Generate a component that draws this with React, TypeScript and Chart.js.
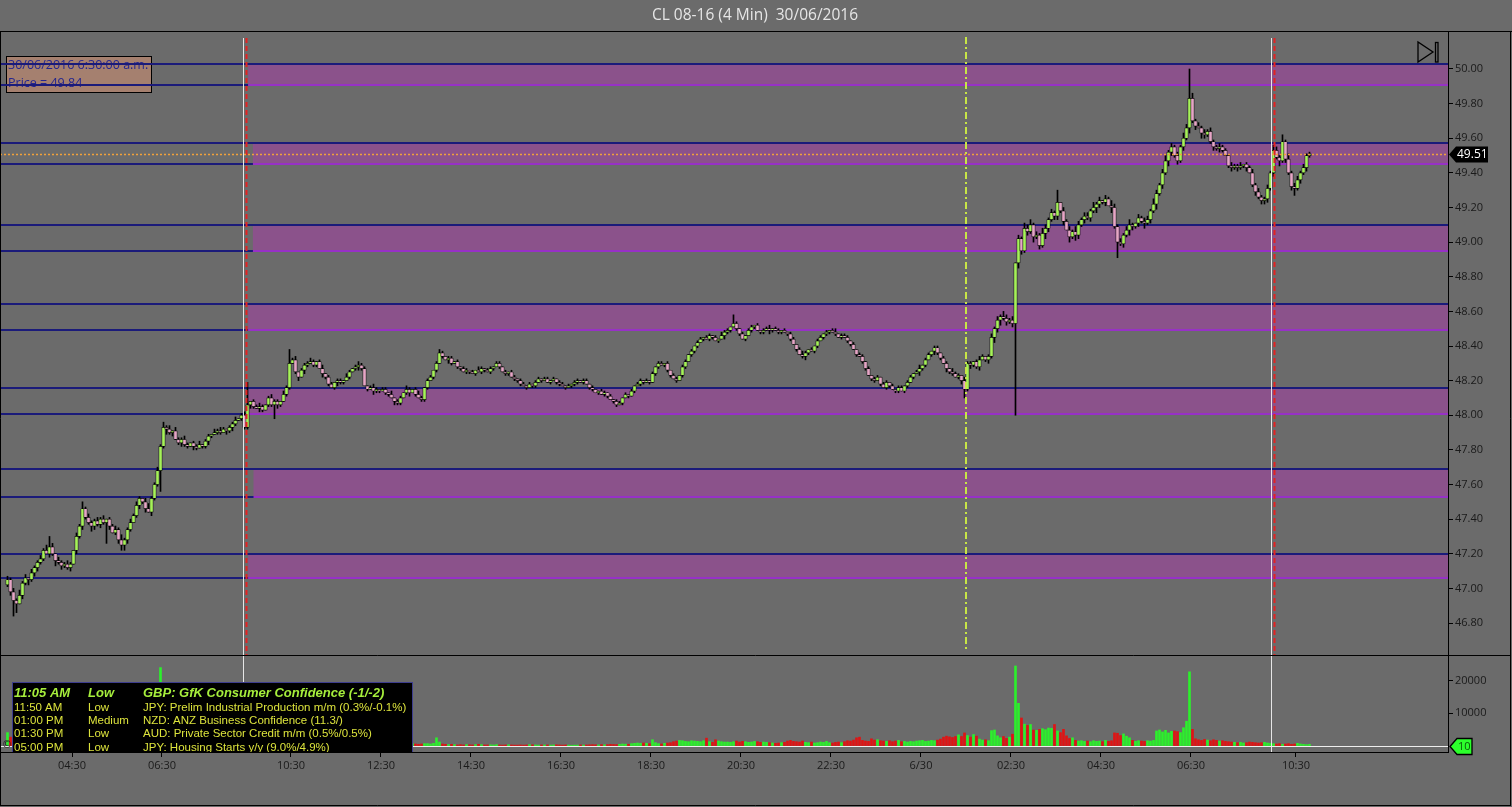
import { useEffect, useRef } from "react"
import { Chart, registerables } from "chart.js"
import type { Plugin } from "chart.js"

Chart.register(...registerables)

// CL 08-16, 4 minute bars, 30/06/2016
const firstOpen = 47.02
const closes = [
    47.05, 46.98, 46.93, 46.91, 46.96, 47.03, 47.06, 47.05, 47.09, 47.12,
    47.15, 47.17, 47.22, 47.2, 47.24, 47.2, 47.16, 47.15, 47.13, 47.14,
    47.12, 47.14, 47.22, 47.3, 47.36, 47.46, 47.41, 47.38, 47.36, 47.39,
    47.37, 47.4, 47.38, 47.4, 47.36, 47.32, 47.34, 47.28, 47.25, 47.28,
    47.34, 47.38, 47.42, 47.48, 47.52, 47.5, 47.46, 47.44, 47.52, 47.6,
    47.68, 47.82, 47.93, 47.92, 47.9, 47.91, 47.86, 47.84, 47.86, 47.83,
    47.82, 47.84, 47.82, 47.81, 47.83, 47.82, 47.85, 47.88, 47.89, 47.9,
    47.91, 47.9, 47.92, 47.91, 47.93, 47.95, 47.97, 47.98, 48.0, 47.93,
    48.06, 48.08, 48.05, 48.04, 48.05, 48.03, 48.06, 48.1, 48.06, 48.08,
    48.06, 48.08, 48.12, 48.16, 48.3, 48.32, 48.25, 48.22, 48.26, 48.29,
    48.3, 48.31, 48.29, 48.31, 48.27, 48.24, 48.22, 48.18, 48.16, 48.19,
    48.2, 48.19, 48.2, 48.22, 48.25, 48.27, 48.28, 48.29, 48.27, 48.17,
    48.15, 48.16, 48.14, 48.15, 48.14, 48.15, 48.13, 48.12, 48.1, 48.08,
    48.07, 48.1, 48.13, 48.15, 48.13, 48.15, 48.12, 48.1, 48.09, 48.16,
    48.2, 48.22, 48.26, 48.3, 48.36, 48.34, 48.32, 48.33, 48.3, 48.31,
    48.28, 48.27, 48.25, 48.26, 48.25, 48.24, 48.26, 48.25, 48.27, 48.26,
    48.25, 48.27, 48.28, 48.3, 48.28, 48.25, 48.24, 48.25, 48.22, 48.21,
    48.2, 48.18, 48.17, 48.16, 48.18, 48.17, 48.19, 48.21, 48.2, 48.21,
    48.19, 48.2, 48.21, 48.19, 48.18, 48.17, 48.16, 48.17, 48.18, 48.19,
    48.2, 48.19, 48.2, 48.18, 48.16, 48.15, 48.13, 48.14, 48.12, 48.13,
    48.11, 48.09, 48.08, 48.06, 48.07, 48.1, 48.12, 48.11, 48.14, 48.17,
    48.18, 48.2, 48.19, 48.2, 48.19, 48.24, 48.28, 48.3, 48.29, 48.3,
    48.26, 48.23, 48.21, 48.2, 48.23, 48.28, 48.31, 48.35, 48.37, 48.4,
    48.42, 48.44, 48.45, 48.44, 48.46, 48.45, 48.43, 48.44, 48.46, 48.48,
    48.49, 48.51, 48.53, 48.5, 48.47, 48.44, 48.46, 48.49, 48.51, 48.52,
    48.49, 48.48, 48.49, 48.5, 48.49, 48.5, 48.49, 48.48, 48.49, 48.48,
    48.47, 48.44, 48.41, 48.38, 48.35, 48.34, 48.36, 48.38, 48.37, 48.4,
    48.43, 48.45, 48.47, 48.48, 48.49, 48.48, 48.47, 48.45, 48.46, 48.45,
    48.43, 48.41, 48.38, 48.35, 48.34, 48.31, 48.27, 48.23, 48.21, 48.2,
    48.22, 48.18, 48.16, 48.19, 48.17, 48.15, 48.14, 48.16, 48.14, 48.17,
    48.19, 48.22, 48.24, 48.25, 48.27, 48.29, 48.32, 48.35, 48.37, 48.39,
    48.36, 48.33, 48.3, 48.27, 48.25, 48.24, 48.22, 48.23, 48.2, 48.15,
    48.3, 48.29, 48.31, 48.28, 48.32, 48.34, 48.32, 48.34, 48.45, 48.5,
    48.55, 48.57, 48.56, 48.54, 48.55, 48.53, 48.88, 49.02, 48.95, 49.08,
    49.06, 49.1, 49.03, 49.04, 48.98, 49.05, 49.08, 49.13, 49.17, 49.15,
    49.23, 49.18, 49.12, 49.07, 49.03, 49.06, 49.04, 49.1, 49.13, 49.15,
    49.14, 49.18, 49.2, 49.22, 49.24, 49.23, 49.25, 49.21, 49.2, 49.09,
    49.0, 48.99, 49.04, 49.07, 49.1, 49.09, 49.11, 49.14, 49.12, 49.11,
    49.13, 49.18, 49.22, 49.28, 49.33, 49.4, 49.47, 49.52, 49.55, 49.5,
    49.47, 49.55, 49.6, 49.66, 49.83, 49.7, 49.67, 49.66, 49.63, 49.62,
    49.64, 49.58, 49.55, 49.54, 49.55, 49.53, 49.5, 49.44, 49.43, 49.44,
    49.43, 49.44, 49.45, 49.43, 49.4, 49.33, 49.29, 49.26, 49.24, 49.25,
    49.31, 49.4, 49.53, 49.49, 49.47, 49.58, 49.48, 49.4, 49.32, 49.31,
    49.36, 49.4, 49.43, 49.5, 49.51
]
// wick length above / below the body, in cents, one digit per bar
const upperWickCents =
    "2121312021 1213120211 2102131211 2120112131 1212102311 2131202112 1011201102 1210112012 " +
    "2011210121 1021012011 1210120110 1102101211 0121011020 1102101210 " +
    "1101210110 1011010210 1101101011 0110101101 1010110101 1011010011 0101101010 1101010110 1011011010 1101101021 " +
    "1011010110 1011201101 0110121010 1101012011 1010110101 1011010110 1101201101 1011021102 1101210121 " +
    "2132120213 2312132121 3021213212 2131202132 1212310212 2132123121 2132031212 " +
    "1211211021 1201121211 2132121312 21211"
const lowerWickCents =
    "1212021312 2110213121 1202121132 1211201213 2101212021 1213120121 1021011210 1102121011 " +
    "1210210112 2101101202 1011021101 2110101210 1021101102 1101201011 " +
    "1011010210 1101101011 0110101101 1101011010 0101101011 1010110101 1011010101 0110101101 1101011011 1010110102 " +
    "1101101011 0110210110 1101012101 1011101010 1101011011 0101101101 1010211012 1102110121 1211201213 " +
    "2312121321 2131213212 2120313212 1213212031 2121321213 1213121321 2121312032 " +
    "1121210121 2112012121 2121312121 12121"
// [bar, low, high] for the long wicks
const wickSpikes: [number, number | null, number | null][] = [
    [2, 46.84, null], [3, 46.86, null], [14, null, 47.3], [25, null, 47.5],
    [33, 47.26, null], [38, 47.22, null], [51, 47.56, null], [80, null, 48.19],
    [89, 47.98, null], [94, null, 48.38], [144, null, 48.38], [242, null, 48.58],
    [319, 48.1, null], [336, 48.0, null], [350, null, 49.3], [370, 48.91, null],
    [394, null, 50.0], [419, 49.22, null], [425, null, 49.62], [429, 49.27, null]
]
const volumes = [
    4000, 2600, 3100, 3500, 2800, 2200, 1900, 1600, 1800, 2100,
    1700, 1500, 2300, 1900, 2500, 1800, 1600, 1400, 1500, 1300,
    1400, 1300, 2600, 3100, 2700, 3900, 2400, 1800, 1500, 1600,
    1400, 1500, 1300, 1400, 1600, 1800, 1500, 2200, 2500, 1900,
    2100, 1800, 2000, 2600, 2300, 1900, 1700, 1600, 2700, 3300,
    6200, 24000, 9800, 4100, 2500, 2000, 1900, 1800, 1600, 1700,
    1500, 1400, 1300, 1500, 1400, 1300, 1600, 1700, 1500, 1400,
    1300, 1400, 1200, 1500, 1600, 1800, 1900, 2100, 2400, 3200,
    3500, 2600, 2000, 1700, 1500, 1400, 1600, 1800, 1500, 1700,
    1600, 1700, 2000, 2300, 4800, 3200, 2400, 2000, 1800, 1700,
    1600, 1500, 1400, 1500, 1600, 1500, 1400, 1600, 1500, 1300,
    1200, 1100, 1300, 1200, 1400, 1300, 1200, 1100, 1300, 1700,
    1400, 1200, 1100, 1000, 1100, 1000, 1200, 1100, 1000, 1100,
    1000, 1200, 1100, 900, 1000, 600, 500, 400, 500, 600,
    600, 500, 700, 2400, 1100, 500, 400, 300, 400, 300,
    200, 300, 200, 300, 250, 200, 300, 400, 300, 200,
    200, 250, 200, 300, 200, 150, 200, 250, 200, 150,
    150, 200, 150, 200, 300, 250, 200, 150, 200, 200,
    200, 150, 200, 250, 200, 150, 200, 150, 100, 150,
    150, 200, 150, 200, 250, 300, 250, 200, 300, 250,
    300, 400, 350, 300, 400, 500, 450, 400, 600, 700,
    800, 700, 800, 700, 600, 1800, 900, 600, 500, 700,
    800, 900, 1200, 1400, 1600, 1500, 1300, 1200, 1500, 1400,
    1300, 1200, 1500, 2300, 1200, 1000, 1800, 1400, 1200, 1100,
    1100, 1000, 1200, 1400, 1100, 1300, 1200, 1000, 1100, 1300,
    1200, 1000, 1100, 1000, 900, 800, 700, 800, 900, 1000,
    1400, 1600, 1300, 1200, 1100, 1400, 1000, 900, 1100, 800,
    900, 1100, 1000, 1300, 900, 800, 1000, 1100, 900, 1200,
    1500, 1400, 1700, 2400, 2600, 1600, 1400, 1300, 2100, 1700,
    1800, 1500, 1400, 1300, 1500, 1200, 1400, 1600, 1200, 1300,
    1100, 1300, 1200, 1400, 1500, 1600, 1300, 1400, 1600, 1500,
    1700, 2000, 2600, 2900, 2700, 2500, 2800, 3300, 2800, 3900,
    3100, 2600, 3400, 2900, 2000, 1700, 1800, 1500, 4600, 4800,
    3000, 2400, 2800, 2200, 2600, 3500, 24500, 13000, 8500, 6600,
    6200, 6500, 4800, 4700, 5000, 5200, 4900, 5400, 5300, 6500,
    4500, 4000, 5000, 3000, 2200, 2400, 1600, 1400, 1500, 1300,
    1400, 1200, 1500, 1300, 1400, 1200, 1600, 1300, 1500, 3900,
    3800, 3100, 3600, 2900, 2400, 1600, 1300, 1500, 1400, 1300,
    1500, 1400, 1600, 4500, 4800, 4200, 4700, 3900, 4400, 4500,
    4300, 4000, 5500, 7500, 22700, 5000, 2100, 1800, 1600, 1900,
    1700, 1500, 1800, 1600, 1400, 1500, 1300, 1200, 1100, 1000,
    900, 1000, 800, 900, 1100, 1000, 900, 800, 900, 1000,
    800, 700, 600, 500, 600, 400, 500, 600, 400, 500,
    700, 500, 400, 300, 400
]

const priceTicks = [46.8, 47.0, 47.2, 47.4, 47.6, 47.8, 48.0, 48.2, 48.4, 48.6, 48.8, 49.0, 49.2, 49.4, 49.6, 49.8, 50.0]
const volumeTicks = [10000, 20000]
const timeTickAt = [21.5, 51.5, 94.5, 124.5, 154.5, 184.5, 214.5, 244.5, 274.5, 304.5, 334.5, 364.5, 394.5, 429.5]
const timeTickText = ["04:30", "06:30", "10:30", "12:30", "14:30", "16:30", "18:30", "20:30", "22:30", "6/30", "02:30", "04:30", "06:30", "10:30"]

const levels = [50.03, 49.91, 49.57, 49.45, 49.1, 48.95, 48.64, 48.49, 48.16, 48.01, 47.69, 47.53, 47.2, 47.06]
// [top, bottom, first bar]
const zones: [number, number, number][] = [
    [50.03, 49.91, 80.2],
    [49.57, 49.45, 81.8],
    [49.1, 48.95, 81.8],
    [48.64, 48.49, 80.2],
    [48.16, 48.01, 80.2],
    [47.69, 47.53, 82],
    [47.2, 47.06, 80.2]
]
const sessionMarks = [79.2, 421.8]
const newsMarks = [319.5]
const lastVolume = 10
const cursorText = ["30/06/2016 6:30:00 a.m.", "Price = 49.84"]
const events = [
    ["11:05 AM", "Low", "GBP: GfK Consumer Confidence (-1/-2)"],
    ["11:50 AM", "Low", "JPY: Prelim Industrial Production m/m (0.3%/-0.1%)"],
    ["01:00 PM", "Medium", "NZD: ANZ Business Confidence (11.3/)"],
    ["01:30 PM", "Low", "AUD: Private Sector Credit m/m (0.5%/0.5%)"],
    ["05:00 PM", "Low", "JPY: Housing Starts y/y (9.0%/4.9%)"]
]

const digits = (s: string) => s.replace(/\s/g, "").split("").map(Number)
const upWick = digits(upperWickCents)
const downWick = digits(lowerWickCents)
const opens = closes.map((_, i) => (i === 0 ? firstOpen : closes[i - 1]))
const highs = closes.map((c, i) => Math.max(c, opens[i]) + upWick[i] / 100)
const lows = closes.map((c, i) => Math.min(c, opens[i]) - downWick[i] / 100)
wickSpikes.forEach(([i, lo, hi]) => {
    if (lo !== null) lows[i] = lo
    if (hi !== null) highs[i] = hi
})
const isUp = closes.map((c, i) => c >= opens[i])
const lastPrice = closes[closes.length - 1]

const BG = "#6b6b6b"
const tickFont = { family: "'Open Sans', sans-serif", size: 11 }

const overlay: Plugin = {
    id: "overlay",
    beforeDraw(chart) {
        const { ctx, width, height } = chart
        ctx.save()
        ctx.fillStyle = BG
        ctx.fillRect(0, 0, width, height)
        ctx.restore()
    },
    beforeDatasetsDraw(chart) {
        const { ctx, chartArea: a, scales } = chart
        const x = scales.x
        const y = scales.y
        ctx.save()

        // cursor read-out box
        ctx.fillStyle = "#a5806f"
        ctx.fillRect(6, 56, 145, 36)
        ctx.strokeStyle = "#000"
        ctx.lineWidth = 1
        ctx.strokeRect(6.5, 56.5, 145, 36)
        ctx.fillStyle = "#25258e"
        ctx.font = "12.5px 'Open Sans', sans-serif"
        ctx.textBaseline = "middle"
        ctx.fillText(cursorText[0], 8, 65)
        ctx.fillText(cursorText[1], 8, 83)

        zones.forEach(([top, bottom, from]) => {
            const x0 = x.getPixelForValue(from)
            const y0 = y.getPixelForValue(top)
            const y1 = y.getPixelForValue(bottom)
            ctx.fillStyle = "rgba(172, 58, 172, 0.5)"
            ctx.fillRect(x0, y0, a.right - x0, y1 - y0)
        })
        ctx.strokeStyle = "#1b1b7a"
        ctx.lineWidth = 2
        levels.forEach((p) => {
            const yy = Math.round(y.getPixelForValue(p))
            ctx.beginPath()
            ctx.moveTo(0, yy)
            ctx.lineTo(a.right, yy)
            ctx.stroke()
        })
        ctx.strokeStyle = "#c23ae0"
        ctx.lineWidth = 1.5
        zones.forEach(([, bottom, from]) => {
            const x0 = x.getPixelForValue(from)
            const yy = Math.round(y.getPixelForValue(bottom))
            ctx.beginPath()
            ctx.moveTo(x0, yy)
            ctx.lineTo(a.right, yy)
            ctx.stroke()
        })
        ctx.restore()
    },
    afterDatasetsDraw(chart) {
        const { ctx, chartArea: a, scales } = chart
        const x = scales.x
        const y = scales.y
        const yv = scales.yv
        const priceBottom = y.bottom
        ctx.save()

        // session markers
        sessionMarks.forEach((m) => {
            const xx = Math.round(x.getPixelForValue(m))
            ctx.setLineDash([])
            ctx.strokeStyle = "#e6e6e6"
            ctx.lineWidth = 1
            ctx.beginPath()
            ctx.moveTo(xx - 1.5, 38)
            ctx.lineTo(xx - 1.5, a.bottom)
            ctx.stroke()
            ctx.setLineDash([5, 3])
            ctx.strokeStyle = "#e32222"
            ctx.lineWidth = 2
            ctx.beginPath()
            ctx.moveTo(xx + 1.5, 38)
            ctx.lineTo(xx + 1.5, priceBottom)
            ctx.stroke()
        })
        newsMarks.forEach((m) => {
            const xx = Math.round(x.getPixelForValue(m))
            ctx.setLineDash([7, 3, 2, 3])
            ctx.strokeStyle = "#c8e646"
            ctx.lineWidth = 2
            ctx.beginPath()
            ctx.moveTo(xx, 37)
            ctx.lineTo(xx, priceBottom - 4)
            ctx.stroke()
        })

        // last price line
        const yl = Math.round(y.getPixelForValue(lastPrice)) + 0.5
        ctx.setLineDash([2, 2])
        ctx.strokeStyle = "#f2a23a"
        ctx.lineWidth = 1.5
        ctx.beginPath()
        ctx.moveTo(0, yl)
        ctx.lineTo(a.right, yl)
        ctx.stroke()

        // last volume line
        const yvl = Math.round(yv.getPixelForValue(lastVolume)) + 0.5
        ctx.setLineDash([])
        ctx.strokeStyle = "#eeeeee"
        ctx.lineWidth = 1
        ctx.beginPath()
        ctx.moveTo(0, yvl)
        ctx.lineTo(a.right, yvl)
        ctx.stroke()

        // economic calendar box
        ctx.save()
        ctx.beginPath()
        ctx.rect(0, 0, a.right, a.bottom)
        ctx.clip()
        ctx.fillStyle = "#000"
        ctx.fillRect(12, 682, 401, 72)
        ctx.strokeStyle = "#3d3d8e"
        ctx.strokeRect(12.5, 682.5, 400, 72)
        ctx.textBaseline = "middle"
        const rowY = [693, 708, 721, 734, 748]
        events.forEach((row, i) => {
            if (i === 0) {
                ctx.font = "italic bold 13px 'Liberation Sans', Arial, sans-serif"
                ctx.fillStyle = "#a6ee3c"
            } else {
                ctx.font = "11.5px 'Liberation Sans', Arial, sans-serif"
                ctx.fillStyle = "#dce33c"
            }
            ctx.fillText(row[0], 14, rowY[i])
            ctx.fillText(row[1], 88, rowY[i])
            ctx.fillText(row[2], 143, rowY[i])
        })
        ctx.restore()
        ctx.fillStyle = "#222"
        ctx.font = "10px 'DejaVu Sans', sans-serif"
        ctx.textBaseline = "middle"
        ctx.fillText("©", 2, 745)
        ctx.restore()
    },
    afterDraw(chart) {
        const { ctx, chartArea: a, scales, width, height } = chart
        const y = scales.y
        const yv = scales.yv
        ctx.save()

        // title
        ctx.fillStyle = "#e6e6e6"
        ctx.font = "15.5px 'Open Sans', sans-serif"
        ctx.textAlign = "center"
        ctx.textBaseline = "middle"
        ctx.fillText("CL 08-16 (4 Min)  30/06/2016", 755, 16)

        // frame
        ctx.strokeStyle = "#000"
        ctx.lineWidth = 1
        ctx.beginPath()
        ctx.moveTo(0, 31.5)
        ctx.lineTo(width, 31.5)
        ctx.moveTo(0.5, 31)
        ctx.lineTo(0.5, height - 1)
        ctx.moveTo(width - 1.5, 31)
        ctx.lineTo(width - 1.5, height - 1)
        ctx.moveTo(0, height - 1.5)
        ctx.lineTo(width - 1, height - 1.5)
        ctx.moveTo(0, Math.round(y.bottom) + 0.5)
        ctx.lineTo(width - 1, Math.round(y.bottom) + 0.5)
        ctx.stroke()

        // skip-to-end icon
        ctx.lineWidth = 1.3
        ctx.beginPath()
        ctx.moveTo(1418, 42)
        ctx.lineTo(1418, 62)
        ctx.lineTo(1433, 52)
        ctx.closePath()
        ctx.stroke()
        ctx.strokeRect(1435.5, 42.5, 2.5, 19.5)

        // last price tag
        const yl = Math.round(y.getPixelForValue(lastPrice)) + 0.5
        ctx.fillStyle = "#000"
        ctx.beginPath()
        ctx.moveTo(a.right + 1, yl)
        ctx.lineTo(a.right + 8, yl - 8)
        ctx.lineTo(a.right + 40, yl - 8)
        ctx.lineTo(a.right + 40, yl + 8)
        ctx.lineTo(a.right + 8, yl + 8)
        ctx.closePath()
        ctx.fill()
        ctx.fillStyle = "#fff"
        ctx.font = "12px 'Open Sans', sans-serif"
        ctx.textAlign = "left"
        ctx.fillText(lastPrice.toFixed(2), a.right + 9, yl + 0.5)

        // last volume tag
        const yvl = Math.round(yv.getPixelForValue(lastVolume)) + 0.5
        ctx.fillStyle = "#2cff2c"
        ctx.strokeStyle = "#000"
        ctx.beginPath()
        ctx.moveTo(a.right + 2, yvl)
        ctx.lineTo(a.right + 9, yvl - 8)
        ctx.lineTo(a.right + 24, yvl - 8)
        ctx.lineTo(a.right + 24, yvl + 8)
        ctx.lineTo(a.right + 9, yvl + 8)
        ctx.closePath()
        ctx.fill()
        ctx.stroke()
        ctx.fillStyle = "#0a5a0a"
        ctx.font = "11px 'Open Sans', sans-serif"
        ctx.fillText(String(lastVolume), a.right + 10, yvl + 0.5)
        ctx.restore()
    }
}

const App = () => {
    const canvasRef = useRef<HTMLCanvasElement>(null)

    useEffect(() => {
        document.body.style.margin = "0"
        document.body.style.background = BG
        if (!canvasRef.current) return

        const idx = closes.map((_, i) => i)
        const chart = new Chart(canvasRef.current, {
            type: "bar",
            data: {
                datasets: [
                    {
                        label: "wick",
                        data: idx.map((i) => ({ x: i, y: [lows[i], highs[i]] })) as any,
                        backgroundColor: "#000",
                        barThickness: 1,
                        grouped: false,
                        yAxisID: "y",
                        order: 3
                    },
                    {
                        label: "body",
                        data: idx.map((i) => ({ x: i, y: [opens[i], closes[i]] })) as any,
                        backgroundColor: idx.map((i) => (isUp[i] ? "#a6f25a" : "#e6a6c6")),
                        borderColor: "#000",
                        borderWidth: 0.7,
                        borderSkipped: false,
                        barThickness: 3.4,
                        minBarLength: 1.5,
                        grouped: false,
                        yAxisID: "y",
                        order: 2
                    },
                    {
                        label: "volume",
                        data: idx.map((i) => ({ x: i, y: volumes[i] })) as any,
                        backgroundColor: idx.map((i) => (isUp[i] ? "#2cf02c" : "#e01414")),
                        barThickness: 2,
                        grouped: false,
                        yAxisID: "yv",
                        order: 1
                    }
                ]
            },
            options: {
                animation: false,
                responsive: false,
                devicePixelRatio: 1,
                layout: { padding: { top: 32, left: 1, right: 0, bottom: 0 } },
                plugins: {
                    legend: { display: false },
                    tooltip: { enabled: false },
                    title: { display: false }
                },
                scales: {
                    x: {
                        type: "linear",
                        min: -2.167,
                        max: 480.17,
                        offset: false,
                        afterBuildTicks: (s: any) => {
                            s.ticks = timeTickAt.map((v) => ({ value: v }))
                        },
                        afterFit: (s: any) => {
                            s.height = 55
                        },
                        ticks: {
                            autoSkip: false,
                            maxRotation: 0,
                            padding: 2,
                            color: "#1a1a1a",
                            font: tickFont,
                            callback: (_v: any, i: number) => timeTickText[i]
                        },
                        grid: { offset: false, drawOnChartArea: false, tickLength: 5, color: "#000" },
                        border: { display: true, color: "#000" }
                    },
                    y: {
                        type: "linear",
                        position: "right",
                        stack: "panes",
                        stackWeight: 623,
                        min: 46.6152,
                        max: 50.2137,
                        afterBuildTicks: (s: any) => {
                            s.ticks = priceTicks.map((v) => ({ value: v }))
                        },
                        afterFit: (s: any) => {
                            s.width = 64
                        },
                        ticks: {
                            padding: 2,
                            color: "#1a1a1a",
                            font: tickFont,
                            callback: (v: any) => Number(v).toFixed(2)
                        },
                        grid: { drawOnChartArea: false, tickLength: 5, color: "#000" },
                        border: { display: true, color: "#000" }
                    },
                    yv: {
                        type: "linear",
                        position: "right",
                        stack: "panes",
                        stackWeight: 97,
                        min: -1970,
                        max: 27880,
                        afterBuildTicks: (s: any) => {
                            s.ticks = volumeTicks.map((v) => ({ value: v }))
                        },
                        afterFit: (s: any) => {
                            s.width = 64
                        },
                        ticks: {
                            padding: 2,
                            color: "#1a1a1a",
                            font: tickFont,
                            callback: (v: any) => String(v)
                        },
                        grid: { drawOnChartArea: false, tickLength: 5, color: "#000" },
                        border: { display: true, color: "#000" }
                    }
                }
            },
            plugins: [overlay]
        })

        return () => chart.destroy()
    }, [])

    return <canvas ref={canvasRef} width={1512} height={807} style={{ display: "block" }} />
}

export default App
